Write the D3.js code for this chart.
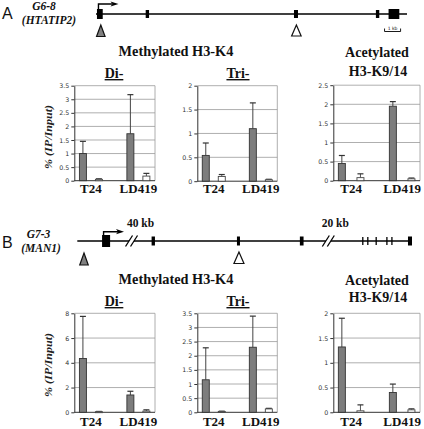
<!DOCTYPE html>
<html><head><meta charset="utf-8">
<script src="https://cdn.jsdelivr.net/npm/d3@7"></script>
<style>body{margin:0;background:#fff}svg{display:block}</style>
</head><body>
<script>
// ---------------- DATA ----------------
const categories = ["T24", "LD419"];
const seriesNames = ["dark", "light"];

// Panel A (G6-8 / HTATIP2)
const aDiTicks = [0, 0.5, 1, 1.5, 2, 2.5, 3, 3.5];
const aDiDark = [1.0, 1.73];
const aDiDarkErr = [0.45, 1.44];
const aDiLight = [0.05, 0.17];
const aDiLightErr = [0.02, 0.1];

const aTriTicks = [0, 0.5, 1, 1.5, 2];
const aTriDark = [0.54, 1.1];
const aTriDarkErr = [0.26, 0.54];
const aTriLight = [0.1, 0.03];
const aTriLightErr = [0.04, 0.01];

const aAcTicks = [0, 0.5, 1, 1.5, 2, 2.5];
const aAcDark = [0.45, 1.95];
const aAcDarkErr = [0.21, 0.12];
const aAcLight = [0.08, 0.05];
const aAcLightErr = [0.1, 0.02];

// Panel B (G7-3 / MAN1)
const bDiTicks = [0, 2, 4, 6, 8];
const bDiDark = [4.35, 1.4];
const bDiDarkErr = [3.4, 0.3];
const bDiLight = [0.05, 0.1];
const bDiLightErr = [0.02, 0.1];

const bTriTicks = [0, 0.5, 1, 1.5, 2, 2.5, 3, 3.5];
const bTriDark = [1.15, 2.3];
const bTriDarkErr = [1.13, 1.1];
const bTriLight = [0.03, 0.12];
const bTriLightErr = [0.01, 0.02];

const bAcTicks = [0, 0.5, 1, 1.5, 2];
const bAcDark = [1.32, 0.4];
const bAcDarkErr = [0.58, 0.17];
const bAcLight = [0.03, 0.05];
const bAcLightErr = [0.12, 0.02];

// Gene maps (genomic units)
const geneAExons = [[0.06, 0.42, 1], [3.1, 3.31, 0], [12.35, 12.6, 0], [17.46, 17.67, 0], [18.25, 18.92, 1]];
const geneALength = 19.4;
const geneAProbes = [0.3, 12.5];
const geneBExons = [[7.4, 9.8, 1], [22.2, 23.2, 0], [47.7, 48.6, 0], [66.5, 67.6, 0], [98.8, 100, 0]];
const geneBTicks = [85.3, 86.8, 89.3, 92.5, 94.0];
const geneBBreaks = [16.2, 75.0];
const geneBBreakLabels = ["40 kb", "20 kb"];
const geneBProbes = [2.0, 48.3];

// ---------------- DRAW ----------------
const svg = d3.select("body").append("svg").attr("width", 424).attr("height", 429);
const serif = "'Liberation Serif','DejaVu Serif',serif";
const sans = "'DejaVu Sans',sans-serif";

function text(x, y, s, opts) {
  const t = svg.append("text").attr("x", x).attr("y", y).text(s)
    .attr("font-family", opts.family || serif)
    .attr("font-size", opts.size || 14)
    .attr("font-weight", opts.weight || "bold")
    .attr("font-style", opts.style || "normal")
    .attr("text-anchor", opts.anchor || "middle")
    .attr("fill", opts.fill || "#111");
  if (opts.underline) t.attr("text-decoration", "underline");
  return t;
}

function drawChart(cfg) {
  const g = svg.append("g");
  const x = d3.scalePoint().domain(categories).range([cfg.x0, cfg.x1]).padding(0.35);
  const y = d3.scaleLinear().domain([0, d3.max(cfg.ticks)]).range([cfg.y0, cfg.y1]);
  // gridlines
  g.selectAll(".grid").data(cfg.ticks.filter(t => t > 0)).join("line")
    .attr("x1", cfg.x0).attr("x2", cfg.x1).attr("y1", d => y(d)).attr("y2", d => y(d))
    .attr("stroke", "#9a9a9a").attr("stroke-width", 0.8);
  g.append("line").attr("x1", cfg.x1).attr("x2", cfg.x1).attr("y1", cfg.y1).attr("y2", cfg.y0)
    .attr("stroke", "#9a9a9a").attr("stroke-width", 0.8);
  // axis
  const ax = g.append("g").attr("transform", `translate(${cfg.x0},0)`)
    .call(d3.axisLeft(y).tickValues(cfg.ticks).tickSize(3).tickSizeOuter(0).tickPadding(2).tickFormat(d => String(d)));
  ax.select(".domain").attr("stroke", "#333");
  ax.selectAll(".tick line").attr("stroke", "#333");
  ax.selectAll(".tick text").attr("font-family", sans).attr("font-size", 6.3).attr("fill", "#333");
  g.append("line").attr("x1", cfg.x0).attr("x2", cfg.x1).attr("y1", cfg.y0).attr("y2", cfg.y0)
    .attr("stroke", "#333").attr("stroke-width", 1);
  // bars
  const bw = 7;
  const rows = [];
  categories.forEach((c, i) => {
    rows.push({ c, s: "dark", v: cfg.dark[i], e: cfg.darkErr[i], cx: x(c) - cfg.off });
    rows.push({ c, s: "light", v: cfg.light[i], e: cfg.lightErr[i], cx: x(c) + cfg.off });
  });
  // error bars
  g.selectAll(".err").data(rows).join("line")
    .attr("x1", d => d.cx).attr("x2", d => d.cx).attr("y1", d => y(d.v)).attr("y2", d => y(d.v + d.e))
    .attr("stroke", d => d.s === "dark" ? "#444" : "#555").attr("stroke-width", 1);
  g.selectAll(".cap").data(rows).join("line")
    .attr("x1", d => d.cx - 3).attr("x2", d => d.cx + 3).attr("y1", d => y(d.v + d.e)).attr("y2", d => y(d.v + d.e))
    .attr("stroke", "#333").attr("stroke-width", 1.2);
  g.selectAll(".bar").data(rows).join("rect")
    .attr("x", d => d.cx - bw / 2).attr("width", bw)
    .attr("y", d => y(d.v)).attr("height", d => Math.max(1, y(0) - y(d.v)))
    .attr("fill", d => d.s === "dark" ? "#7d7d7d" : "#fff")
    .attr("stroke", d => d.s === "dark" ? "#333" : "#444").attr("stroke-width", 0.9);
  // category labels
  categories.forEach(c => text(x(c), cfg.labelY, c, { size: 13 }));
}

const off1 = 8, off2 = 9.3;
// Panel A charts
drawChart({ x0: 74.3, x1: 155, y0: 180.7, y1: 85.7, ticks: aDiTicks, dark: aDiDark, darkErr: aDiDarkErr, light: aDiLight, lightErr: aDiLightErr, off: off1, labelY: 192.5 });
drawChart({ x0: 197.3, x1: 277.3, y0: 181.2, y1: 85.7, ticks: aTriTicks, dark: aTriDark, darkErr: aTriDarkErr, light: aTriLight, lightErr: aTriLightErr, off: off1, labelY: 192.5 });
drawChart({ x0: 333.3, x1: 420, y0: 180.7, y1: 85.2, ticks: aAcTicks, dark: aAcDark, darkErr: aAcDarkErr, light: aAcLight, lightErr: aAcLightErr, off: off2, labelY: 192.5 });
// Panel B charts
drawChart({ x0: 74.3, x1: 155, y0: 412.3, y1: 313.3, ticks: bDiTicks, dark: bDiDark, darkErr: bDiDarkErr, light: bDiLight, lightErr: bDiLightErr, off: off1, labelY: 426 });
drawChart({ x0: 197.3, x1: 277.3, y0: 412.3, y1: 313.3, ticks: bTriTicks, dark: bTriDark, darkErr: bTriDarkErr, light: bTriLight, lightErr: bTriLightErr, off: off1, labelY: 426 });
drawChart({ x0: 333.3, x1: 420, y0: 412.3, y1: 313.3, ticks: bAcTicks, dark: bAcDark, darkErr: bAcDarkErr, light: bAcLight, lightErr: bAcLightErr, off: off2, labelY: 426 });

// Titles
[[0, 0], [228, 1]].forEach(([dy, k]) => {
  text(176, 56 + dy, "Methylated H3-K4", { size: 14.3 });
  text(114, 78 + dy, "Di-", { size: 14, underline: true });
  text(238, 78 + dy, "Tri-", { size: 14, underline: true });
  text(377, 56.5 + dy, "Acetylated", { size: 14 });
  text(378, 75.5 + dy - k * 1.5, "H3-K9/14", { size: 14 });
  const cy = 137 + dy;
  svg.append("text").attr("transform", `translate(52,${cy}) rotate(-90)`)
    .attr("text-anchor", "middle").attr("font-family", serif).attr("font-size", 11)
    .attr("font-weight", "bold").attr("font-style", "italic").attr("fill", "#222")
    .attr("textLength", 64).attr("lengthAdjust", "spacingAndGlyphs")
    .text("% (IP/Input)");
});

// Panel letters and gene names
text(2, 18.5, "A", { family: "'Liberation Sans',Arial,sans-serif", size: 16, weight: "normal", anchor: "start" });
text(2, 248, "B", { family: "'Liberation Sans',Arial,sans-serif", size: 16, weight: "normal", anchor: "start" });
text(44, 10, "G6-8", { size: 11.5, style: "italic" });
text(49, 23.5, "(HTATIP2)", { size: 11.5, style: "italic" });
text(38.5, 238, "G7-3", { size: 11.5, style: "italic" });
text(41, 251.5, "(MAN1)", { size: 11.5, style: "italic" });

function triangle(cx, top, w, h, fill) {
  svg.append("path").attr("d", `M${cx},${top}L${cx + w / 2},${top + h}L${cx - w / 2},${top + h}Z`)
    .attr("fill", fill).attr("stroke", "#111").attr("stroke-width", 1.2);
}
function arrow(x, yBase, yTop, xEnd) {
  svg.append("path").attr("d", `M${x},${yBase}V${yTop}H${xEnd - 6}`).attr("fill", "none").attr("stroke", "#000").attr("stroke-width", 1.4);
  svg.append("path").attr("d", `M${xEnd},${yTop}L${xEnd - 8},${yTop - 2.6}L${xEnd - 6},${yTop}L${xEnd - 8},${yTop + 2.6}Z`).attr("fill", "#000");
}

// Gene A
{
  const gx = d3.scaleLinear().domain([0, geneALength]).range([96, 407]);
  const ly = 14;
  svg.append("line").attr("x1", gx(0)).attr("x2", gx(geneALength)).attr("y1", ly).attr("y2", ly).attr("stroke", "#000").attr("stroke-width", 1.5);
  svg.selectAll(".exA").data(geneAExons).join("rect")
    .attr("x", d => gx(d[0])).attr("width", d => gx(d[1]) - gx(d[0]))
    .attr("y", d => d[2] ? ly - 5 : ly - 4).attr("height", d => d[2] ? 10 : 8).attr("fill", "#000");
  arrow(gx(geneAExons[0][0]) + 1.5, ly - 5, 4, 118.5);
  triangle(gx(geneAProbes[0]), 25, 8.5, 11.5, "#808080");
  triangle(gx(geneAProbes[1]), 25, 9.5, 11, "#fff");
  // 1 kb scale bar
  svg.append("path").attr("d", `M${gx(18.0)},28.5V31.5H${gx(19.0)}V28.5`).attr("fill", "none").attr("stroke", "#000").attr("stroke-width", 0.9);
  text(gx(18.5), 30, "1 kb", { family: sans, size: 4.5, weight: "normal" });
}

// Gene B
{
  const gx = d3.scaleLinear().domain([0, 100]).range([77.3, 412]);
  const ly = 241;
  svg.append("line").attr("x1", gx(0)).attr("x2", gx(100)).attr("y1", ly).attr("y2", ly).attr("stroke", "#000").attr("stroke-width", 1.5);
  svg.selectAll(".exB").data(geneBExons).join("rect")
    .attr("x", d => gx(d[0])).attr("width", d => gx(d[1]) - gx(d[0]))
    .attr("y", d => d[2] ? ly - 6 : ly - 4.5).attr("height", d => d[2] ? 12 : 9).attr("fill", "#000");
  svg.selectAll(".tkB").data(geneBTicks).join("line")
    .attr("x1", d => gx(d)).attr("x2", d => gx(d)).attr("y1", ly - 4).attr("y2", ly + 4)
    .attr("stroke", "#000").attr("stroke-width", 1.3);
  geneBBreaks.forEach((b, i) => {
    const cx = gx(b);
    svg.append("rect").attr("x", cx - 2.5).attr("y", ly - 1).attr("width", 5).attr("height", 2).attr("fill", "#fff");
    [-2.5, 2.5].forEach(dx => {
      svg.append("line").attr("x1", cx + dx - 3.5).attr("y1", ly + 5.5).attr("x2", cx + dx + 3.5).attr("y2", ly - 5.5)
        .attr("stroke", "#000").attr("stroke-width", 1.3);
    });
    text(cx + (i === 0 ? 9 : 7), 227, geneBBreakLabels[i], { size: 11.5 });
  });
  arrow(gx(geneBExons[0][0]) + 1.5, ly - 6, 231.7, 124);
  triangle(gx(geneBProbes[0]), 253, 8.5, 12, "#808080");
  triangle(gx(geneBProbes[1]), 252, 10, 11.5, "#fff");
}
</script>
</body></html>
